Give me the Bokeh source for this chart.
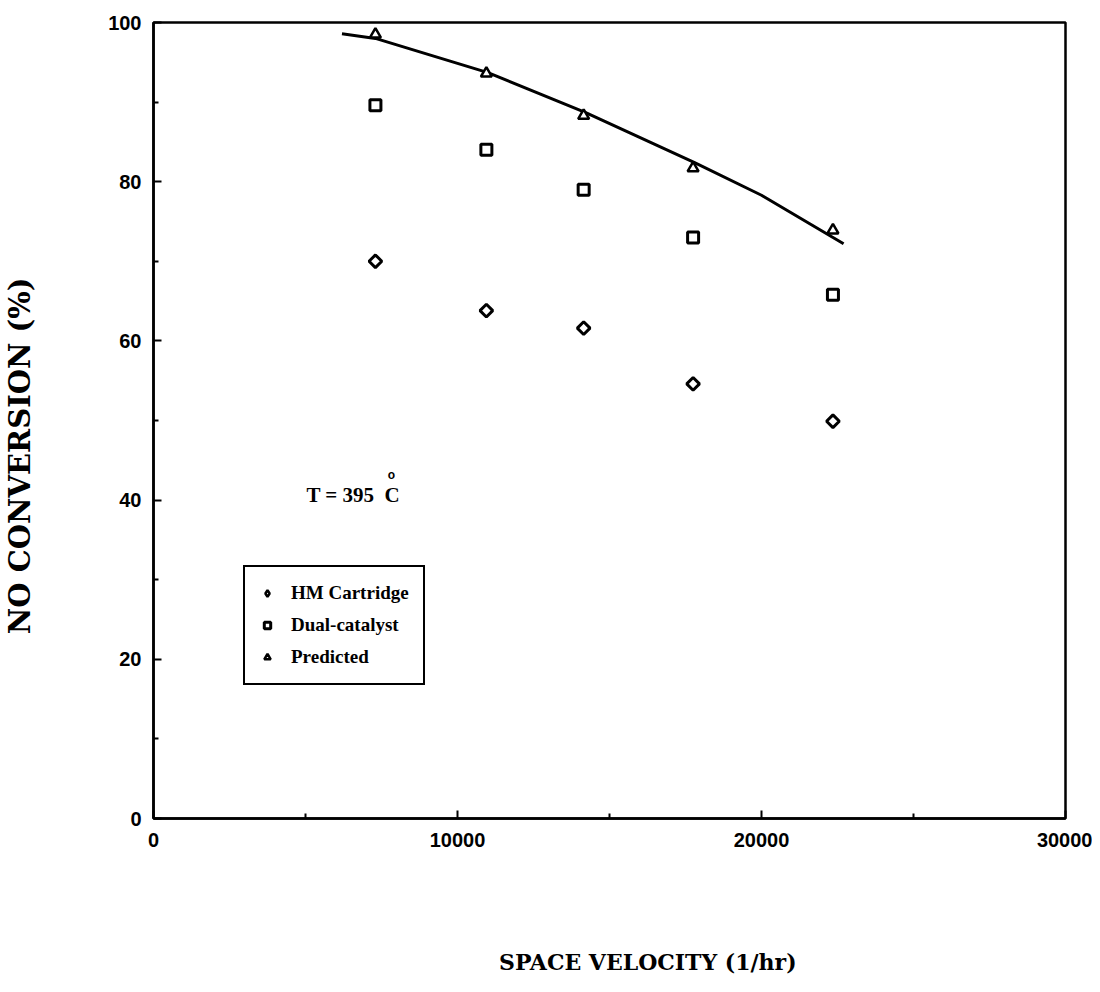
from bokeh.plotting import figure
from bokeh.models import Range1d, FixedTicker, Label, Legend, LegendItem
from bokeh.embed import file_html
from bokeh.resources import INLINE

# ---- data ----
velocity = [7300, 10950, 14150, 17750, 22350]
hm_cartridge = [70.0, 63.8, 61.6, 54.6, 49.9]
dual_catalyst = [89.6, 84.0, 79.0, 73.0, 65.8]
predicted = [98.5, 93.6, 88.3, 81.7, 73.9]
curve_x = [6200, 7300, 11000, 14200, 17800, 20000, 22700]
curve_y = [98.6, 98.0, 93.7, 88.7, 82.4, 78.3, 72.2]
x_ticks = [0, 10000, 20000, 30000]
y_ticks = [0, 20, 40, 60, 80, 100]

NB = "\u00a0"

p = figure(width=1092, height=984, output_backend="svg", toolbar_location=None,
           x_range=Range1d(0, 30000), y_range=Range1d(0, 100),
           min_border_left=153, min_border_right=27, min_border_top=22, min_border_bottom=166)
p.frame_width = 912
p.frame_height = 796
p.xgrid.visible = False
p.ygrid.visible = False
p.outline_line_color = "black"
p.outline_line_width = 2.5
p.outline_line_alpha = 1
p.background_fill_color = "white"
p.border_fill_color = "white"

for ax in (p.xaxis[0], p.yaxis[0]):
    ax.axis_line_width = 2.5
    ax.axis_line_color = "black"
    ax.major_tick_in = 8
    ax.major_tick_out = 0
    ax.minor_tick_in = 5
    ax.minor_tick_out = 0
    ax.major_tick_line_width = 2
    ax.minor_tick_line_width = 2
    ax.major_label_text_font = "Liberation Sans"
    ax.major_label_text_font_style = "bold"
    ax.major_label_text_font_size = "20px"
    ax.major_label_text_color = "black"
    ax.axis_label_text_font = "DejaVu Serif"
    ax.axis_label_text_font_style = "bold"
    ax.axis_label_text_color = "black"

p.xaxis[0].ticker = FixedTicker(ticks=x_ticks, minor_ticks=[5000, 15000, 25000])
p.yaxis[0].ticker = FixedTicker(ticks=y_ticks, minor_ticks=[10, 30, 50, 70, 90])
p.xaxis[0].major_label_standoff = 14
p.yaxis[0].major_label_standoff = 12

p.xaxis[0].axis_label = NB * 10 + "SPACE VELOCITY (1/hr)"
p.xaxis[0].axis_label_text_font_size = "22px"
p.xaxis[0].axis_label_standoff = 99
p.yaxis[0].axis_label = "NO CONVERSION (%)" + NB * 7
p.yaxis[0].axis_label_text_font_size = "29px"
p.yaxis[0].axis_label_standoff = 68

# curve
p.line(curve_x, curve_y, line_color="black", line_width=3)

r_hm = p.scatter(velocity, hm_cartridge, marker="square", angle=0.785, size=9,
                 line_color="black", line_width=3, fill_color="white")
r_dc = p.scatter(velocity, dual_catalyst, marker="square", size=11, line_color="black",
                 line_width=3, fill_color="white")
r_pr = p.scatter(velocity, predicted, marker="triangle", size=11, line_color="black",
                 line_width=2.5, fill_color="white")
# legend key glyph for the diamond (kept outside the visible range)
r_hm_key = p.scatter([-10000], [-50], marker="diamond", size=12, line_color="black",
                     line_width=2.5, fill_color="white")

legend = Legend(items=[LegendItem(label="HM Cartridge", renderers=[r_hm_key]),
                       LegendItem(label="Dual-catalyst", renderers=[r_dc]),
                       LegendItem(label="Predicted", renderers=[r_pr])],
                location=(90, 133), padding=14, spacing=8, margin=0,
                glyph_width=16, glyph_height=24, label_height=24, label_standoff=16,
                border_line_color="black", border_line_width=2, border_line_alpha=1,
                label_text_font="Liberation Serif", label_text_font_style="bold",
                label_text_font_size="19px", label_text_color="black",
                background_fill_alpha=1)
p.add_layout(legend, "center")

p.add_layout(Label(x=5030, y=39.1, text="T = 395" + NB * 2 + "C", text_font="Liberation Serif",
                   text_font_style="bold", text_font_size="21px", text_color="black"))
p.add_layout(Label(x=7830, y=43.1, text="o", text_font="Liberation Sans",
                   text_font_style="bold", text_font_size="12px", text_align="center",
                   text_baseline="middle", text_color="black"))

open("out.html", "w").write(file_html(p, INLINE))
